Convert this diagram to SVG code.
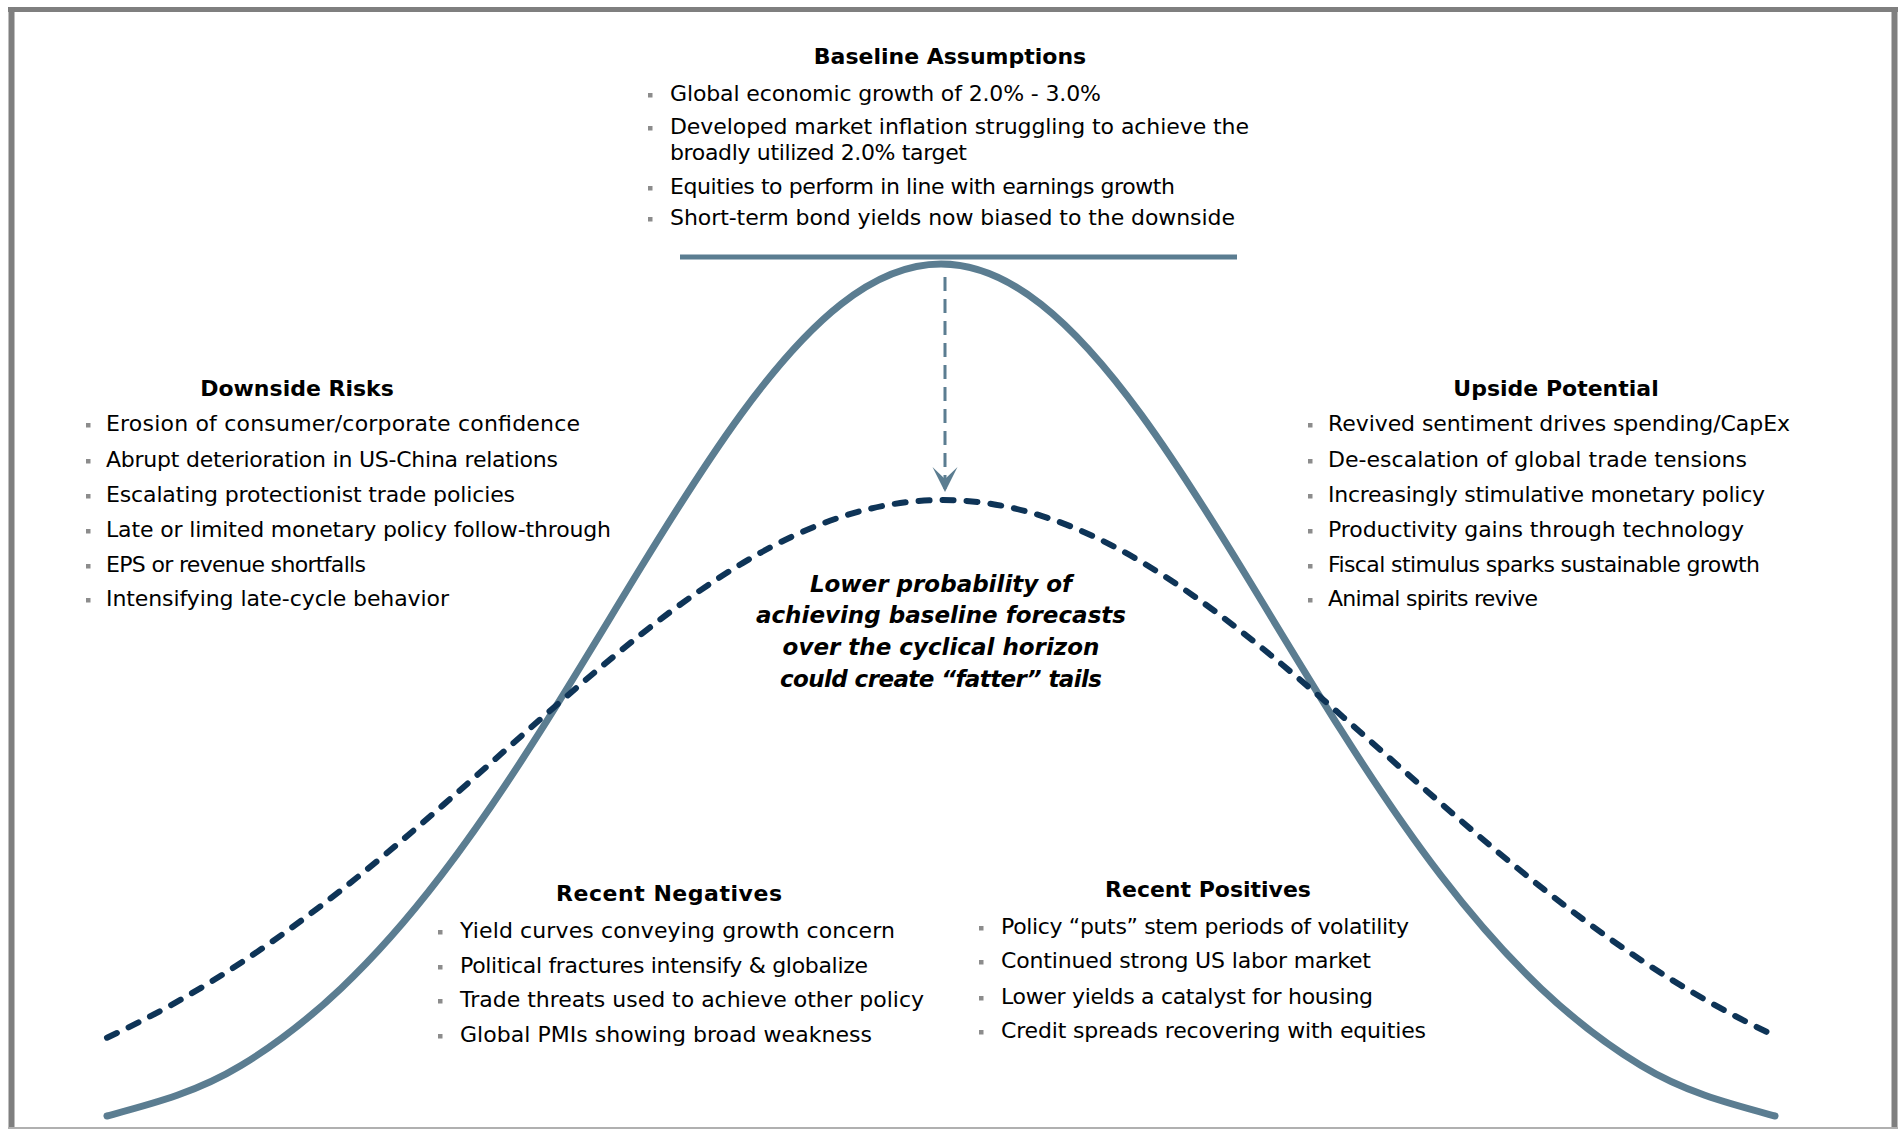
<svg xmlns="http://www.w3.org/2000/svg" width="1902" height="1129" viewBox="0 0 1902 1129">
  <style>
    .txt { font-family: "DejaVu Sans", "Liberation Sans", sans-serif; font-size: 22px; fill: #000; }
    .head { font-weight: bold; text-anchor: middle; }
    .note { font-family: "DejaVu Sans", "Liberation Sans", sans-serif; font-size: 23px; font-weight: bold; font-style: italic; text-anchor: middle; fill: #000; }
    .dot { fill: #8c8c8c; }
    .bell { fill: none; stroke: #5b7d91; stroke-width: 7; stroke-linecap: round; }
    .fat { fill: none; stroke: #0e3457; stroke-width: 6; stroke-linecap: round; stroke-dasharray: 11 13; }
    .rule { stroke: #5b7d91; stroke-width: 5; }
    .frame { stroke: #7f7f7f; fill: none; }
  </style>
  <defs>
    <!-- stealth-style head, drawn pointing along +x -->
    <marker id="drop" viewBox="0 0 26 26" refX="25" refY="13" markerWidth="26" markerHeight="26" markerUnits="userSpaceOnUse" orient="auto">
      <path d="M0 0.5 L25 13 L0 25.5 L12 13 Z" fill="#5b7d91"/>
    </marker>
  </defs>

  <rect width="1902" height="1129" fill="#fff"/>

  <!-- page border -->
  <g id="frame">
    <line class="frame" x1="8" y1="9.5" x2="1898" y2="9.5" stroke-width="5"/>
    <line class="frame" x1="11.5" y1="7" x2="11.5" y2="1129" stroke-width="6"/>
    <line class="frame" x1="1894.5" y1="7" x2="1894.5" y2="1129" stroke-width="6"/>
    <line x1="8" y1="1128" x2="1898" y2="1128" stroke="#b0b0b0" stroke-width="2"/>
  </g>

  <!-- distribution curves -->
  <g id="curves">
    <line id="baseline-rule" class="rule" x1="680" y1="257" x2="1237" y2="257"/>
    <path id="normal-curve" class="bell" d="M107 1116 C151.67 1103.94 196.33 1092.67 241 1065.55 C274.33 1045.31 307.67 1019.94 341 988.43 C374.33 956.92 407.67 919.19 441 875.68 C474.33 832.17 507.67 782.83 541 730.21 C574.33 677.59 607.67 621.72 641 567.29 C674.33 512.86 707.67 459.98 741 414.33 C774.33 368.68 807.67 330.4 841 304.2 C874.33 278 907.67 264 941 264 C974.33 264 1007.67 278 1041 304.2 C1074.33 330.4 1107.67 368.68 1141 414.33 C1174.33 459.98 1207.67 512.86 1241 567.29 C1274.33 621.72 1307.67 677.59 1341 730.21 C1374.33 782.83 1407.67 832.17 1441 875.68 C1474.33 919.19 1507.67 956.92 1541 988.43 C1574.33 1019.94 1607.67 1045.31 1641 1065.55 C1685.67 1092.67 1730.33 1103.94 1775 1116"/>
    <path id="fat-tail-curve" class="fat" d="M107 1037.67 C152.33 1016.73 197.67 991.31 243 961.39 C276.33 939.39 309.67 914.97 343 888.67 C376.33 862.37 409.67 834.18 443 805.13 C476.33 776.08 509.67 746.16 543 716.9 C576.33 687.64 609.67 659.07 643 632.82 C676.33 606.57 709.67 582.71 743 562.82 C776.33 542.93 809.67 527.05 843 516.31 C876.33 505.57 909.67 500 943 500 C976.33 500 1009.67 505.57 1043 516.31 C1076.33 527.05 1109.67 542.93 1143 562.82 C1176.33 582.71 1209.67 606.57 1243 632.82 C1276.33 659.07 1309.67 687.64 1343 716.9 C1376.33 746.16 1409.67 776.08 1443 805.13 C1476.33 834.18 1509.67 862.37 1543 888.67 C1576.33 914.97 1609.67 939.39 1643 961.39 C1685.33 989.33 1727.67 1013.35 1770 1033.45"/>
  </g>

  <!-- peak shift arrow -->
  <g id="connectors">
    <line id="peak-shift" x1="945" y1="277" x2="945" y2="492" stroke="#5b7d91" stroke-width="3" stroke-dasharray="14 8" marker-end="url(#drop)"/>
  </g>

  <g id="baseline-assumptions" class="txt">
    <text class="head" x="950" y="64">Baseline Assumptions</text>
    <rect class="dot" x="648" y="93" width="4.5" height="4.5"/>
    <text x="670" y="101" textLength="431" lengthAdjust="spacing">Global economic growth of 2.0% - 3.0%</text>
    <rect class="dot" x="648" y="126" width="4.5" height="4.5"/>
    <text x="670" y="134" textLength="579" lengthAdjust="spacing">Developed market inflation struggling to achieve the</text>
    <text x="670" y="160" textLength="297" lengthAdjust="spacing">broadly utilized 2.0% target</text>
    <rect class="dot" x="648" y="186" width="4.5" height="4.5"/>
    <text x="670" y="194" textLength="505" lengthAdjust="spacing">Equities to perform in line with earnings growth</text>
    <rect class="dot" x="648" y="217" width="4.5" height="4.5"/>
    <text x="670" y="225" textLength="565" lengthAdjust="spacing">Short-term bond yields now biased to the downside</text>
  </g>

  <g id="downside-risks" class="txt">
    <text class="head" x="297" y="396">Downside Risks</text>
    <rect class="dot" x="86" y="423" width="4.5" height="4.5"/>
    <text x="106" y="431" textLength="474" lengthAdjust="spacing">Erosion of consumer/corporate confidence</text>
    <rect class="dot" x="86" y="459" width="4.5" height="4.5"/>
    <text x="106" y="467" textLength="452" lengthAdjust="spacing">Abrupt deterioration in US-China relations</text>
    <rect class="dot" x="86" y="494" width="4.5" height="4.5"/>
    <text x="106" y="502" textLength="409" lengthAdjust="spacing">Escalating protectionist trade policies</text>
    <rect class="dot" x="86" y="529" width="4.5" height="4.5"/>
    <text x="106" y="537" textLength="505" lengthAdjust="spacing">Late or limited monetary policy follow-through</text>
    <rect class="dot" x="86" y="564" width="4.5" height="4.5"/>
    <text x="106" y="572" textLength="260" lengthAdjust="spacing">EPS or revenue shortfalls</text>
    <rect class="dot" x="86" y="598" width="4.5" height="4.5"/>
    <text x="106" y="606" textLength="343" lengthAdjust="spacing">Intensifying late-cycle behavior</text>
  </g>

  <g id="upside-potential" class="txt">
    <text class="head" x="1556" y="396">Upside Potential</text>
    <rect class="dot" x="1308" y="423" width="4.5" height="4.5"/>
    <text x="1328" y="431" textLength="462" lengthAdjust="spacing">Revived sentiment drives spending/CapEx</text>
    <rect class="dot" x="1308" y="459" width="4.5" height="4.5"/>
    <text x="1328" y="467" textLength="419" lengthAdjust="spacing">De-escalation of global trade tensions</text>
    <rect class="dot" x="1308" y="494" width="4.5" height="4.5"/>
    <text x="1328" y="502" textLength="437" lengthAdjust="spacing">Increasingly stimulative monetary policy</text>
    <rect class="dot" x="1308" y="529" width="4.5" height="4.5"/>
    <text x="1328" y="537" textLength="416" lengthAdjust="spacing">Productivity gains through technology</text>
    <rect class="dot" x="1308" y="564" width="4.5" height="4.5"/>
    <text x="1328" y="572" textLength="432" lengthAdjust="spacing">Fiscal stimulus sparks sustainable growth</text>
    <rect class="dot" x="1308" y="598" width="4.5" height="4.5"/>
    <text x="1328" y="606" textLength="210" lengthAdjust="spacing">Animal spirits revive</text>
  </g>

  <g id="fat-tail-note">
    <text class="note" x="941" y="592">Lower probability of</text>
    <text class="note" x="941" y="623">achieving baseline forecasts</text>
    <text class="note" x="941" y="655">over the cyclical horizon</text>
    <text class="note" x="941" y="687" textLength="322" lengthAdjust="spacing">could create “fatter” tails</text>
  </g>

  <g id="recent-negatives" class="txt">
    <text class="head" x="669" y="901" textLength="226" lengthAdjust="spacing">Recent Negatives</text>
    <rect class="dot" x="438" y="930" width="4.5" height="4.5"/>
    <text x="460" y="938" textLength="435" lengthAdjust="spacing">Yield curves conveying growth concern</text>
    <rect class="dot" x="438" y="965" width="4.5" height="4.5"/>
    <text x="460" y="973" textLength="408" lengthAdjust="spacing">Political fractures intensify &amp; globalize</text>
    <rect class="dot" x="438" y="999" width="4.5" height="4.5"/>
    <text x="460" y="1007" textLength="464" lengthAdjust="spacing">Trade threats used to achieve other policy</text>
    <rect class="dot" x="438" y="1034" width="4.5" height="4.5"/>
    <text x="460" y="1042" textLength="412" lengthAdjust="spacing">Global PMIs showing broad weakness</text>
  </g>

  <g id="recent-positives" class="txt">
    <text class="head" x="1208" y="897">Recent Positives</text>
    <rect class="dot" x="979" y="926" width="4.5" height="4.5"/>
    <text x="1001" y="934" textLength="408" lengthAdjust="spacing">Policy “puts” stem periods of volatility</text>
    <rect class="dot" x="979" y="960" width="4.5" height="4.5"/>
    <text x="1001" y="968" textLength="370" lengthAdjust="spacing">Continued strong US labor market</text>
    <rect class="dot" x="979" y="996" width="4.5" height="4.5"/>
    <text x="1001" y="1004" textLength="372" lengthAdjust="spacing">Lower yields a catalyst for housing</text>
    <rect class="dot" x="979" y="1030" width="4.5" height="4.5"/>
    <text x="1001" y="1038" textLength="425" lengthAdjust="spacing">Credit spreads recovering with equities</text>
  </g>
</svg>
